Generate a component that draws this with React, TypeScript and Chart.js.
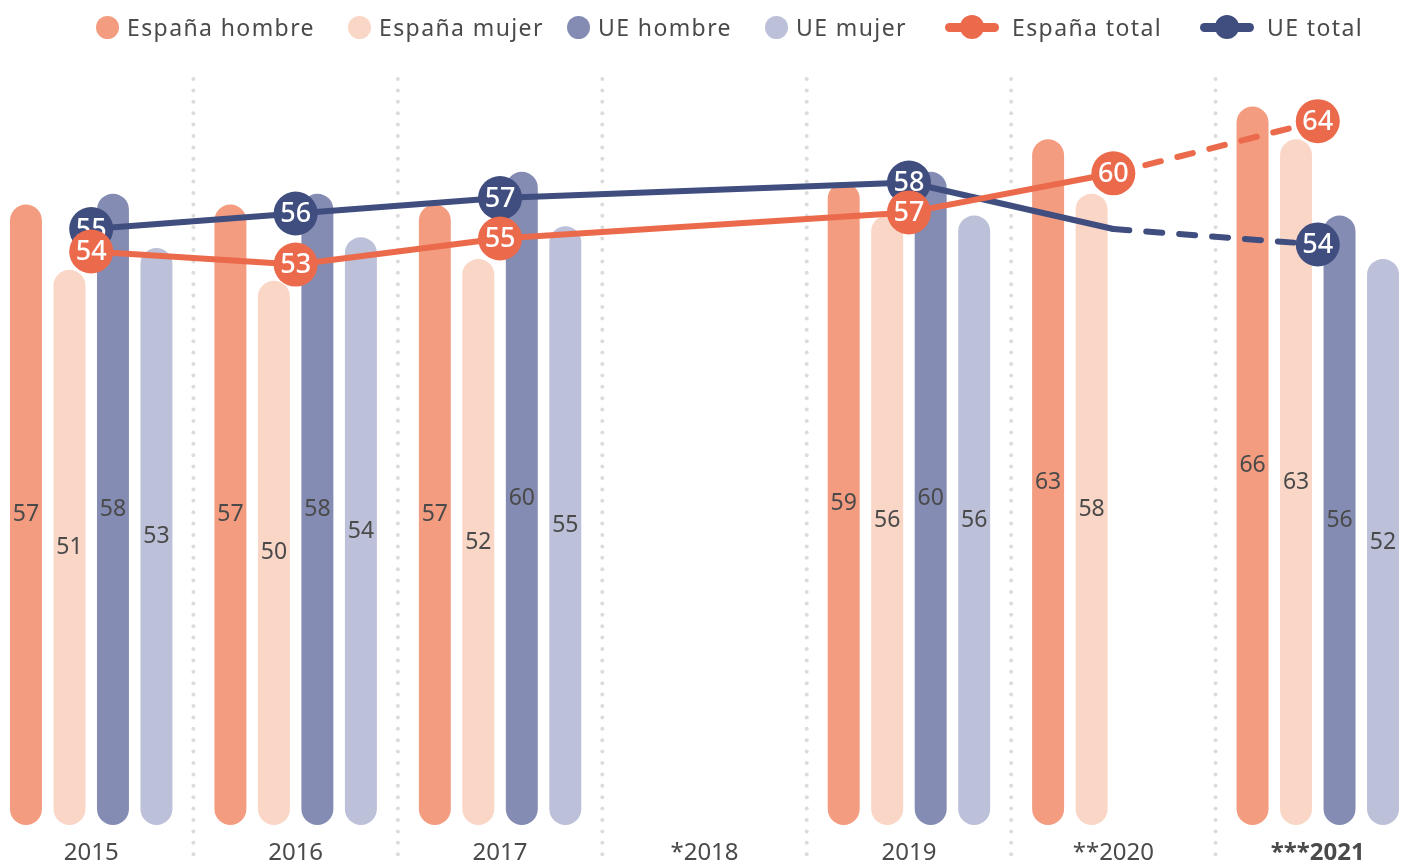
import React, { useEffect, useRef } from "react";
import { Chart, registerables } from "chart.js";

Chart.register(...registerables);

const categories = ["2015", "2016", "2017", "*2018", "2019", "**2020", "***2021"];
const espanaHombre = [57, 57, 57, null, 59, 63, 66];
const espanaMujer = [51, 50, 52, null, 56, 58, 63];
const ueHombre = [58, 58, 60, null, 60, null, 56];
const ueMujer = [53, 54, 55, null, 56, null, 52];
const espanaTotal = [54, 53, 55, null, 57, 60, 64];
const ueTotal = [55, 56, 57, null, 58, 55, 54];

const C_EH = "#F39C80";
const C_EM = "#FAD6C7";
const C_UH = "#848CB3";
const C_UM = "#BCC0D8";
const C_ET = "#EC6A4C";
const C_UT = "#3F4D7F";
const TEXT = "#4a4a4a";
const FONT = '"Noto Sans", sans-serif';

const dotGrid = {
  id: "dotGrid",
  beforeDatasetsDraw(chart: any) {
    const x = chart.scales.x;
    const ctx = chart.ctx;
    ctx.save();
    ctx.fillStyle = "#dcdcdc";
    for (let i = 1; i < categories.length; i++) {
      const px = (x.getPixelForTick(i - 1) + x.getPixelForTick(i)) / 2;
      for (let y = 79; y <= 856; y += 11.4) {
        ctx.beginPath();
        ctx.arc(px, y, 2, 0, Math.PI * 2);
        ctx.fill();
      }
    }
    ctx.restore();
  },
};

const valueLabels = {
  id: "valueLabels",
  afterDatasetDraw(chart: any, args: any) {
    const ds = chart.data.datasets[args.index];
    const meta = args.meta;
    const ctx = chart.ctx;
    ctx.save();
    ctx.textAlign = "center";
    ctx.textBaseline = "middle";
    meta.data.forEach((el: any, i: number) => {
      const v = ds.data[i];
      if (v === null || v === undefined) return;
      if (meta.type === "bar") {
        ctx.fillStyle = TEXT;
        ctx.font = `400 23px ${FONT}`;
        ctx.fillText(String(v), el.x, (el.y + el.base) / 2);
      } else {
        if (!el.options || el.options.radius <= 0) return;
        ctx.fillStyle = "#ffffff";
        ctx.font = `500 27px ${FONT}`;
        ctx.fillText(String(v), el.x, el.y + 1);
      }
    });
    ctx.restore();
  },
};

function LegendItem({ left, color, label, line }: any) {
  return (
    <div
      style={{
        position: "absolute",
        left,
        top: 27,
        transform: "translateY(-50%)",
        display: "flex",
        alignItems: "center",
        whiteSpace: "nowrap",
      }}
    >
      {line ? (
        <div style={{ position: "relative", width: 54, height: 24, marginRight: 13 }}>
          <div
            style={{
              position: "absolute",
              left: 0,
              top: 8,
              width: 54,
              height: 9,
              borderRadius: 5,
              background: color,
            }}
          />
          <div
            style={{
              position: "absolute",
              left: 15,
              top: 0,
              width: 24,
              height: 24,
              borderRadius: 12,
              background: color,
            }}
          />
        </div>
      ) : (
        <div
          style={{
            width: 23,
            height: 23,
            borderRadius: 12,
            background: color,
            marginRight: 8,
          }}
        />
      )}
      <span
        style={{
          fontFamily: FONT,
          fontSize: 23,
          letterSpacing: 1.4,
          color: TEXT,
          lineHeight: "24px",
        }}
      >
        {label}
      </span>
    </div>
  );
}

export default function App() {
  const ref = useRef<HTMLCanvasElement | null>(null);

  useEffect(() => {
    if (!ref.current) return;
    const barBase = {
      type: "bar" as const,
      yAxisID: "y",
      borderRadius: 16,
      borderSkipped: false,
      borderWidth: 0,
      categoryPercentage: 0.851,
      barPercentage: 0.735,
      order: 10,
    };
    const lineBase = {
      type: "line" as const,
      borderWidth: 6,
      borderCapStyle: "round" as const,
      borderJoinStyle: "round" as const,
      tension: 0,
      spanGaps: true,
      pointBorderWidth: 0,
      pointHoverBorderWidth: 0,
      clip: false as const,
      segment: {
        borderDash: (ctx: any) => (ctx.p0DataIndex === 5 ? [16, 17] : undefined),
      },
    };
    const chart = new Chart(ref.current, {
      type: "bar",
      data: {
        labels: categories,
        datasets: [
          { ...barBase, label: "España hombre", data: espanaHombre, backgroundColor: C_EH },
          { ...barBase, label: "España mujer", data: espanaMujer, backgroundColor: C_EM },
          { ...barBase, label: "UE hombre", data: ueHombre, backgroundColor: C_UH },
          { ...barBase, label: "UE mujer", data: ueMujer, backgroundColor: C_UM },
          {
            ...lineBase,
            label: "UE total",
            data: ueTotal,
            yAxisID: "yU",
            borderColor: C_UT,
            backgroundColor: C_UT,
            pointBackgroundColor: C_UT,
            pointRadius: (ctx: any) => (ctx.dataIndex === 5 ? 0 : 22),
            pointHoverRadius: (ctx: any) => (ctx.dataIndex === 5 ? 0 : 22),
            order: 2,
          },
          {
            ...lineBase,
            label: "España total",
            data: espanaTotal,
            yAxisID: "yE",
            borderColor: C_ET,
            backgroundColor: C_ET,
            pointBackgroundColor: C_ET,
            pointRadius: 22,
            pointHoverRadius: 22,
            order: 1,
          },
        ] as any,
      },
      options: {
        responsive: false,
        animation: false,
        events: [],
        layout: { autoPadding: false, padding: { top: 63, left: 0, right: 0, bottom: 0 } },
        plugins: {
          legend: { display: false },
          tooltip: { enabled: false },
        },
        scales: {
          x: {
            grid: { display: false },
            border: { display: false },
            afterFit: (scale: any) => {
              scale.height = 40;
            },
            ticks: {
              padding: 6,
              color: TEXT,
              font: (ctx: any) => ({
                family: FONT,
                size: 24,
                weight: ctx.index === 6 ? "bold" : "normal",
              }),
            },
          },
          y: { display: false, min: 0, max: 70 },
          yE: { display: false, min: 10.02, max: 68.46 },
          yU: { display: false, min: 16.5, max: 65.72 },
        },
      } as any,
      plugins: [dotGrid, valueLabels],
    });
    return () => chart.destroy();
  }, []);

  return (
    <div
      style={{
        position: "fixed",
        left: 0,
        top: 0,
        width: 1412,
        height: 865,
        overflow: "hidden",
        background: "#ffffff",
      }}
    >
      <canvas
        ref={ref}
        width={1431}
        height={865}
        style={{ position: "absolute", left: -11, top: 0, width: 1431, height: 865 }}
      />
      <LegendItem left={96} color={C_EH} label="España hombre" />
      <LegendItem left={348} color={C_EM} label="España mujer" />
      <LegendItem left={567} color={C_UH} label="UE hombre" />
      <LegendItem left={765} color={C_UM} label="UE mujer" />
      <LegendItem left={945} color={C_ET} label="España total" line />
      <LegendItem left={1200} color={C_UT} label="UE total" line />
    </div>
  );
}
